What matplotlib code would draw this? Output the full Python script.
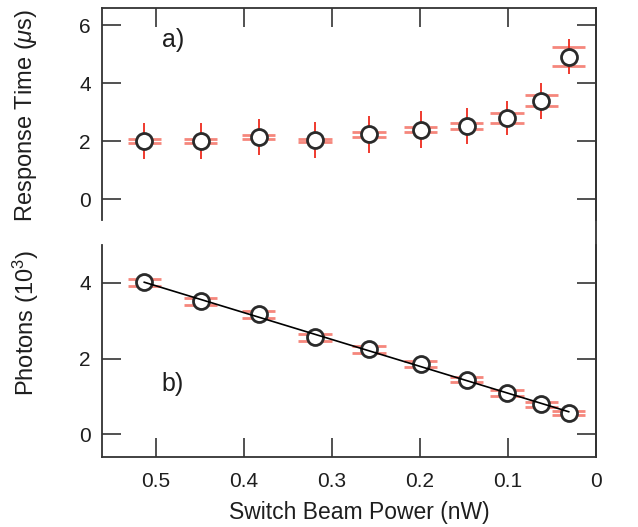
import numpy as np
import matplotlib
matplotlib.use("Agg")
import matplotlib.pyplot as plt
from matplotlib.lines import Line2D

plt.rcParams['font.family'] = ['Liberation Sans', 'DejaVu Sans']
plt.rcParams['mathtext.fontset'] = 'custom'
plt.rcParams['mathtext.it'] = 'Liberation Sans:italic'
plt.rcParams['mathtext.rm'] = 'Liberation Sans'

# ---- data ----
power = [0.513, 0.449, 0.383, 0.319, 0.258, 0.199, 0.147, 0.101, 0.062, 0.031]
power_err = [0.019, 0.019, 0.019, 0.019, 0.019, 0.019, 0.019, 0.019, 0.019, 0.019]
response_time = [2.00, 2.00, 2.13, 2.03, 2.23, 2.40, 2.52, 2.80, 3.39, 4.91]
response_err = [0.61, 0.61, 0.62, 0.62, 0.64, 0.63, 0.62, 0.60, 0.63, 0.61]
response_band = [0.06, 0.06, 0.07, 0.06, 0.08, 0.09, 0.1, 0.17, 0.19, 0.33]
photons = [4.01, 3.51, 3.17, 2.56, 2.24, 1.86, 1.44, 1.09, 0.79, 0.56]
photons_band = [0.09, 0.09, 0.09, 0.09, 0.08, 0.08, 0.07, 0.07, 0.07, 0.06]

xticks = [0.5, 0.4, 0.3, 0.2, 0.1, 0]
xticklabels = ['0.5', '0.4', '0.3', '0.2', '0.1', '0']
rt_ticks = [0, 2, 4, 6]
ph_ticks = [0, 2, 4]

W, H = 638, 527
fig = plt.figure(figsize=(W / 100, H / 100), dpi=100)
L, R = 102 / W, 596 / W
ax1 = fig.add_axes([L, 1 - 220 / H, R - L, (220 - 8) / H])
ax2 = fig.add_axes([L, 1 - 457 / H, R - L, (457 - 245) / H])

red = '#ee2b1e'
pink = '#f47a6e'
edge = '#2a2a2a'
txt = '#1e1e1e'
x = np.array(power)

for ax in (ax1, ax2):
    ax.set_xlim(0.561, 0.0)
    ax.set_xticks(xticks)
    for s in ax.spines.values():
        s.set_linewidth(1.3)
        s.set_color('#333333')
    ax.tick_params(direction='in', length=14, width=1.2, color='#333333',
                   labelsize=15, labelcolor=txt)
    ax.tick_params(axis='x', pad=11)
    ax.tick_params(axis='y', pad=8)

# top panel
ax1.set_ylim(-0.72, 6.59)
ax1.set_yticks(rt_ticks)
ax1.spines['bottom'].set_visible(False)
ax1.tick_params(axis='x', top=True, bottom=False, labeltop=False, labelbottom=False)
ax1.tick_params(axis='y', left=True, right=True)
rt = np.array(response_time)
band = np.array(response_band)
for sgn in (1, -1):
    ax1.errorbar(x, rt + sgn * band, xerr=power_err, fmt='none', ecolor=pink,
                 elinewidth=2.0, capsize=0, alpha=0.9, zorder=2)
ax1.errorbar(x, rt, yerr=response_err, fmt='none', ecolor=red, elinewidth=1.3,
             capsize=0, zorder=3)
ax1.plot(x, rt, 'o', ms=11.5, mfc='white', mec=edge, mew=2.0, zorder=4)
ax1.set_ylabel('Response Time ($\\mu$s)', fontsize=17, color=txt, va='center')
ax1.yaxis.set_label_coords(-0.154, 0.495)
ax1.text(0.493, 5.48, 'a)', fontsize=18, va='center', ha='left', color=txt)

# bottom panel
ax2.set_ylim(-0.6, 5.0)
ax2.set_yticks(ph_ticks)
ax2.spines['top'].set_visible(False)
ax2.tick_params(axis='x', top=False, bottom=True)
ax2.tick_params(axis='y', left=True, right=True)
ph = np.array(photons)
pb = np.array(photons_band)
for sgn in (1, -1):
    ax2.errorbar(x, ph + sgn * pb, xerr=power_err, fmt='none', ecolor=pink,
                 elinewidth=2.0, capsize=0, alpha=0.9, zorder=2)
ax2.plot(x, ph, 'o', ms=11.5, mfc='white', mec=edge, mew=2.0, zorder=3)
coef = np.polyfit(x, ph, 1)
xf = np.array([x.max(), x.min()])
ax2.plot(xf, np.polyval(coef, xf), color='black', lw=1.2, zorder=4)
ax2.set_ylabel('Photons (10$^3$)', fontsize=17, color=txt, va='center')
ax2.yaxis.set_label_coords(-0.154, 0.63)
ax2.set_xlabel('Switch Beam Power (nW)', fontsize=16.5, color=txt, va='center')
ax2.xaxis.set_label_coords(0.52, -0.264)
ax2.set_xticklabels(xticklabels)
ax2.text(0.493, 1.32, 'b)', fontsize=18, va='center', ha='left', color=txt)

# continuous right spine across the gap
fig.add_artist(Line2D([R, R], [1 - 457 / H, 1 - 8 / H], transform=fig.transFigure,
                      color='#333333', lw=1.3))

fig.savefig('out.png', dpi=100)
